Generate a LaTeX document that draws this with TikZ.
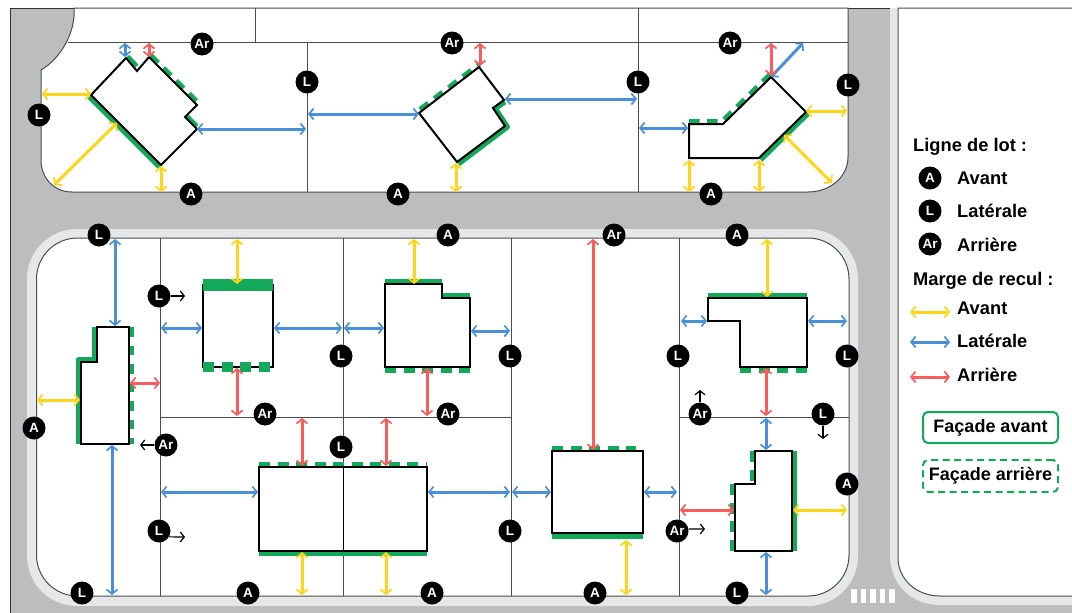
\documentclass[tikz,border=0pt]{standalone}
\usepackage{fontspec}
\setmainfont{Liberation Sans}
\usetikzlibrary{arrows.meta}

\definecolor{roadgrey}{HTML}{BCBDBF}
\definecolor{walkgrey}{HTML}{E6E7E8}
\definecolor{margeyellow}{HTML}{FFD51A}
\definecolor{margeblue}{HTML}{4A90D9}
\definecolor{margered}{HTML}{F85C5C}
\definecolor{facegreen}{HTML}{12A95A}

\tikzset{
  lotline/.style={draw=black!70, line width=1pt},
  building/.style={draw=black, fill=white, line width=2pt, line join=miter},
  solidface/.style={draw=facegreen, line width=5pt, line join=round},
  dashface/.style={solidface, line join=miter, dash pattern=on 10.5pt off 7.5pt},
  marge/.style={
    {Straight Barb[length=4.5pt,width=11pt,line width=1.7pt]}-{Straight Barb[length=4.5pt,width=11pt,line width=1.7pt]},
    line width=3pt},
  avantarrow/.style={marge, draw=margeyellow},
  latarrow/.style={marge, draw=margeblue},
  arrarrow/.style={marge, draw=margered},
  pointer/.style={draw=black, line width=1.2pt, -{Straight Barb[length=4pt,width=10pt]}},
  badge/.style={circle, fill=black, text=white, inner sep=0pt, minimum size=23pt,
    font=\fontsize{13.5}{14}\selectfont\bfseries},
  legendtext/.style={anchor=base west, inner sep=0pt, font=\fontsize{18.3}{20}\selectfont\bfseries},
  facebox/.style={draw=facegreen, line width=2pt, rounded corners=5pt, minimum width=135pt,
    inner sep=0pt, font=\fontsize{18}{20}\selectfont\bfseries},
}

\begin{document}
\begin{tikzpicture}[x=1pt,y=-1pt]
  \useasboundingbox (0,0) rectangle (1072,613);
  % Road
  \fill[roadgrey] (10,8) rectangle (1072,613);
  \draw[black!80, line width=0.9pt] (1072,8) -- (10,8) -- (10,613);
  % Top block
  \filldraw[fill=white, lotline] (74,8) .. controls (76,30) and (62,58) .. (41,70) -- (41,160)
    .. controls (41,178) and (54,192) .. (72,192) -- (808,192)
    .. controls (830,192) and (848,177) .. (848,157) -- (848,8) -- cycle;
  % Lower block
  \fill[walkgrey, rounded corners=50pt] (27,229) rectangle (858,606);
  \filldraw[fill=white, lotline, rounded corners=41pt] (36.5,238) rectangle (849,596);
  % Right block
  \fill[walkgrey] (890,8) -- (890,555) .. controls (890,585) and (912,605) .. (940,605) -- (1072,605) -- (1072,8) -- cycle;
  \filldraw[fill=white, lotline] (1072,596) -- (940,596) .. controls (915,596) and (898,578) .. (898,558) -- (898,8) -- (1072,8);
  % Crossing
  \foreach \i in {851,860.5,870,879.5,889}
    \fill[white] (\i,589) rectangle ++(5.5,14);
  % Lot lines
  \foreach \xa/\ya/\xb/\yb in {68/42/848/42, 255/8/255/42, 307/42/307/192, 638/8/638/192,
      160/238/160/596, 343/238/343/596, 511/238/511/596, 679/238/679/596,
      160/417/511/417, 679/417/849/417}
    \draw[lotline] (\xa,\ya) -- (\xb,\yb);

  % Top row faces
  \draw[solidface] (89.2,96.8) -- (159.2,166.8);
  \draw[solidface, line width=4pt] (127.8,56.2) -- (137,66);
  \draw[dashface, line width=4.5pt] (150.8,55.2) -- (198.8,103.2);
  \draw[solidface, line width=4pt] (186.5,115.5) -- (197,126);
  \draw[dashface] (420,109.5) -- (479.5,64);
  \draw[solidface] (458.5,164) -- (507.5,127) -- (495.5,108.5) -- (505,102);
  \draw[dashface] (689,121.5) -- (722,121.5) -- (770,74.5);
  \draw[solidface] (807.8,113.8) -- (760.8,159.8);
  % Top row buildings
  \draw[building] (126,58) -- (137,71) -- (149,57) -- (197,105) -- (185,117) -- (197,129) -- (161,165) -- (91,95) -- cycle;
  \draw[building] (479,67) -- (504,100) -- (493,108) -- (505,126) -- (457,162) -- (419,113) -- cycle;
  \draw[building] (689,124) -- (723,124) -- (771,77) -- (806,112) -- (759,158) -- (689,158) -- cycle;

  % Lower faces
  \draw[solidface] (78.5,444) -- (78.5,359.5) -- (94.5,359.5) -- (94.5,327);
  \draw[dashface, dash pattern=on 9.5pt off 9pt] (131.5,327) -- (131.5,444);
  \draw[dashface, dash pattern=on 11pt off 7.5pt] (259,464.5) -- (427,464.5);
  \draw[solidface] (259,553.5) -- (427,553.5);
  \draw[solidface] (385,281.5) -- (442,281.5);
  \draw[solidface] (442,295.5) -- (470,295.5);
  \draw[dashface, dash pattern=on 11pt off 7.5pt] (385,370) -- (470,370);
  \draw[dashface, dash pattern=on 11pt off 7.5pt] (552,448.5) -- (636,448.5);
  \draw[solidface] (552,536) -- (643,536);
  \draw[solidface] (708,295.5) -- (807,295.5);
  \draw[dashface, dash pattern=on 11pt off 7.5pt] (740,370) -- (807,370);
  \draw[solidface] (794.5,451) -- (794.5,551);
  \draw[dashface, dash pattern=on 11pt off 7.5pt] (752.5,451) -- (752.5,484);
  \draw[dashface, dash pattern=on 11pt off 7.5pt] (732.5,484) -- (732.5,551);
  % Lower buildings
  \draw[building] (97,327) -- (129,327) -- (129,444) -- (81,444) -- (81,362) -- (97,362) -- cycle;
  \draw[building] (203,285) rectangle (273,367);
  \draw[building] (259,467) rectangle (427,551);
  \draw[lotline, draw=black] (343,467) -- (343,551);
  \draw[building] (385,284) -- (442,284) -- (442,298) -- (470,298) -- (470,367) -- (385,367) -- cycle;
  \draw[building] (552,451) rectangle (643,533);
  \draw[building] (708,298) -- (807,298) -- (807,367) -- (740,367) -- (740,321) -- (708,321) -- cycle;
  \draw[building] (755,451) -- (792,451) -- (792,551) -- (735,551) -- (735,484) -- (755,484) -- cycle;
  % Thick faces over the square building
  \draw[solidface, line width=12pt] (203,285) -- (273,285);
  \draw[dashface, line width=10pt, dash pattern=on 11pt off 7.5pt] (203,367) -- (273,367);

  % Margins
  \foreach \xa/\ya/\xb/\yb in {42/94/91/94, 54/185/117/123, 161/166/161/192, 456/163/456/192,
      806/111/847/111, 784/135/832/183, 689/160/689/192, 759/160/759/192,
      37/400/80/400, 237/239/237/284, 414/239/414/284, 767/239/767/297,
      302/552/302/595, 386/552/386/595, 626/540/626/595, 793/510/847/510}
    \draw[avantarrow] (\xa,\ya) -- (\xb,\yb);
  \foreach \xa/\ya/\xb/\yb in {125/43/125/57, 197/129/306/129, 308/114/419/114, 505/99/637/99,
      639/128/688/128, 771/77/803/43,
      115/239/115/326, 112/445/112/595, 161/328/202/328, 274/328/342/328,
      344/328/384/328, 471/331/510/331, 161/492/258/492, 428/492/510/492,
      512/492/551/492, 644/492/677/492, 681/321/707/321, 808/321/847/321,
      766/418/766/450, 766/552/766/595}
    \draw[latarrow] (\xa,\ya) -- (\xb,\yb);
  \foreach \xa/\ya/\xb/\yb in {149/43/149/57, 480/43/480/66, 771/43/771/76,
      130/383/160/383, 237/368/237/416, 302/418/302/466, 386/418/386/466,
      427/368/427/416, 593/239/593/450, 766/368/766/416, 680/510/734/510}
    \draw[arrarrow] (\xa,\ya) -- (\xb,\yb);

  % Lot line labels
  \foreach \xa/\ya/\lab [count=\k] in {202/44/Ar, 307/82/L, 39/115/L, 191/194/A, 452/43/Ar, 638/82/L,
      398/194/A, 730/43/Ar, 848/85/L, 711/194/A,
      99/235/L, 448/235/A, 614/235/Ar, 737/235/A,
      341/356/L, 510/356/L, 678/356/L, 847/356/L, 265/414/Ar, 448/414/Ar,
      341/447/L, 34/428/A, 847/484/A, 510/531/L,
      82/593/L, 248/593/A, 432/593/A, 595/593/A, 737/593/L}
    \node[badge] (lot\k) at (\xa,\ya) {\lab};
  \node[badge] (turnA) at (159,296) {L};
  \node[badge] (turnB) at (159,531) {L};
  \node[badge] (turnC) at (166,445) {Ar};
  \node[badge] (turnD) at (700,414) {Ar};
  \node[badge] (turnE) at (823,414) {L};
  \node[badge] (turnF) at (677,531) {Ar};
  % Small pointers
  \coordinate (endA) at (185,296);
  \coordinate (endB) at (185,537);
  \coordinate (endC) at (140,445);
  \coordinate (endD) at (700,390);
  \coordinate (endE) at (823,439);
  \coordinate (endF) at (705,529);
  \draw[pointer] (turnA) -- (endA);
  \draw[pointer] (turnB.-30) -- (endB);
  \draw[pointer] (turnC) -- (endC);
  \draw[pointer] (turnD) -- (endD);
  \draw[pointer] (turnE) -- (endE);
  \draw[pointer] (turnF.10) -- (endF);

  % Legend
  \node[legendtext] (titleLot) at (913,151.5) {Ligne de lot :};
  \node[badge] (keyA) at (930,178) {A};
  \node[badge] (keyL) at (930,211) {L};
  \node[badge] (keyAr) at (930,244) {Ar};
  \node[legendtext] (textA) at (957,184) {Avant};
  \node[legendtext] (textL) at (957,217) {Latérale};
  \node[legendtext] (textAr) at (957,251) {Arrière};
  \node[legendtext] (titleMarge) at (913,285) {Marge de recul :};
  \draw[avantarrow] (910,312) -- (950,312);
  \draw[latarrow] (910,342) -- (950,342);
  \draw[arrarrow] (910,377) -- (950,377);
  \node[legendtext] (textAvant) at (957,314) {Avant};
  \node[legendtext] (textLat) at (957,347) {Latérale};
  \node[legendtext] (textArr) at (957,381) {Arrière};
  \node[facebox, minimum height=31pt] (boxAvant) at (990.5,427.5) {Façade avant};
  \node[facebox, minimum height=32pt, dash pattern=on 7pt off 4.5pt] (boxArr) at (990.5,476) {Façade arrière};
\end{tikzpicture}
\end{document}
